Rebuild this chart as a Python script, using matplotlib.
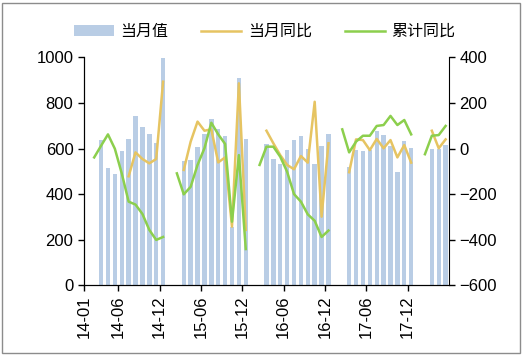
import matplotlib

matplotlib.use("Agg")
import matplotlib.pyplot as plt
import numpy as np
from matplotlib.patches import Rectangle

plt.rcParams["font.family"] = ["Liberation Sans", "Noto Sans CJK SC", "DejaVu Sans"]

nan = np.nan

# ── Data ──────────────────────────────────────────────────────────────────────
# one category per month, 14-01 ... 18-05 (Jan/Feb have no monthly value)
months = [f"{y:02d}-{m:02d}" for y in range(14, 19) for m in range(1, 13)][:53]

monthly_value = (
    [nan, nan, 637, 514, 490, 589, 640, 743, 696, 665, 624, 995]
    + [nan, nan, 546, 549, 606, 662, 728, 684, 656, 257, 911, 640]
    + [nan, nan, 620, 554, 532, 593, 637, 655, 598, 532, 612, 664]
    + [nan, nan, 520, 593, 589, 593, 678, 658, 611, 496, 633, 604]
    + [nan, nan, 598, 598, 615]
)
monthly_yoy = (
    [nan, nan, nan, nan, nan, nan, -122, -17, -46, -65, -46, 293]
    + [nan, nan, -94, 30, 118, 78, 84, -61, -39, -343, 286, -357]
    + [nan, nan, 78, 23, -29, -72, -91, -33, -62, 205, -299, 23]
    + [nan, nan, -104, 40, 37, -7, 42, 1, 37, -39, 15, -62]
    + [nan, nan, 78, 1, 40]
)
cumulative_yoy = (
    [nan, -39, 12, 62, -1, -109, -233, -246, -287, -357, -401, -388]
    + [nan, -109, -201, -168, -72, 1, 113, 62, 20, -321, -29, -441]
    + [nan, -72, 8, 8, -36, -102, -200, -233, -289, -317, -388, -360]
    + [nan, 84, -17, 30, 56, 56, 99, 103, 143, 103, 125, 62]
    + [nan, -25, 56, 59, 99]
)
tick_labels = ["14-01", "14-06", "14-12", "15-06", "15-12", "16-06", "16-12", "17-06", "17-12"]

BAR_C = "#B9CDE5"
YOY_C = "#E6C462"
CUM_C = "#8CCF4D"

# ── Plot ──────────────────────────────────────────────────────────────────────
fig = plt.figure(figsize=(5.24, 3.56), dpi=100)
ax = fig.add_axes([0.160, 0.1986, 0.697, 0.6404])
ax2 = ax.twinx()

x = np.arange(len(months))
ax.bar(x, monthly_value, width=0.64, color=BAR_C, label="当月值")
ax2.plot(x, monthly_yoy, color=YOY_C, lw=1.8, label="当月同比")
ax2.plot(x, cumulative_yoy, color=CUM_C, lw=1.8, label="累计同比")

ax.set_xlim(-0.5, len(months) - 0.5)
ax.set_ylim(0, 1000)
ax.set_yticks(range(0, 1001, 200))
ax2.set_ylim(-600, 400)
ax2.set_yticks(range(-600, 401, 200))

tick_pos = [months.index(t) - 0.5 for t in tick_labels]
ax.set_xticks(tick_pos)
ax.set_xticklabels(tick_labels, rotation=90)

for a in (ax, ax2):
    a.spines["top"].set_visible(False)
    a.tick_params(direction="out", length=4, width=1, labelsize=12, colors="black")
ax.spines["right"].set_visible(False)

handles = ax.get_legend_handles_labels()[0] + ax2.get_legend_handles_labels()[0]
labels = ["当月值", "当月同比", "累计同比"]
fig.legend(
    handles,
    labels,
    loc="center",
    bbox_to_anchor=(0.505, 0.911),
    ncol=3,
    frameon=False,
    prop={"family": ["Noto Sans CJK SC"], "size": 11.5, "weight": "light"},
    handlelength=2.5,
    handletextpad=0.4,
    columnspacing=2.1,
)

# thin grey frame round the whole chart
fig.patches.append(
    Rectangle((2 / 524, 3 / 356), 518 / 524, 350 / 356, transform=fig.transFigure,
              fill=False, edgecolor="#8C8C8C", lw=1)
)

fig.savefig("out.png", dpi=100)
